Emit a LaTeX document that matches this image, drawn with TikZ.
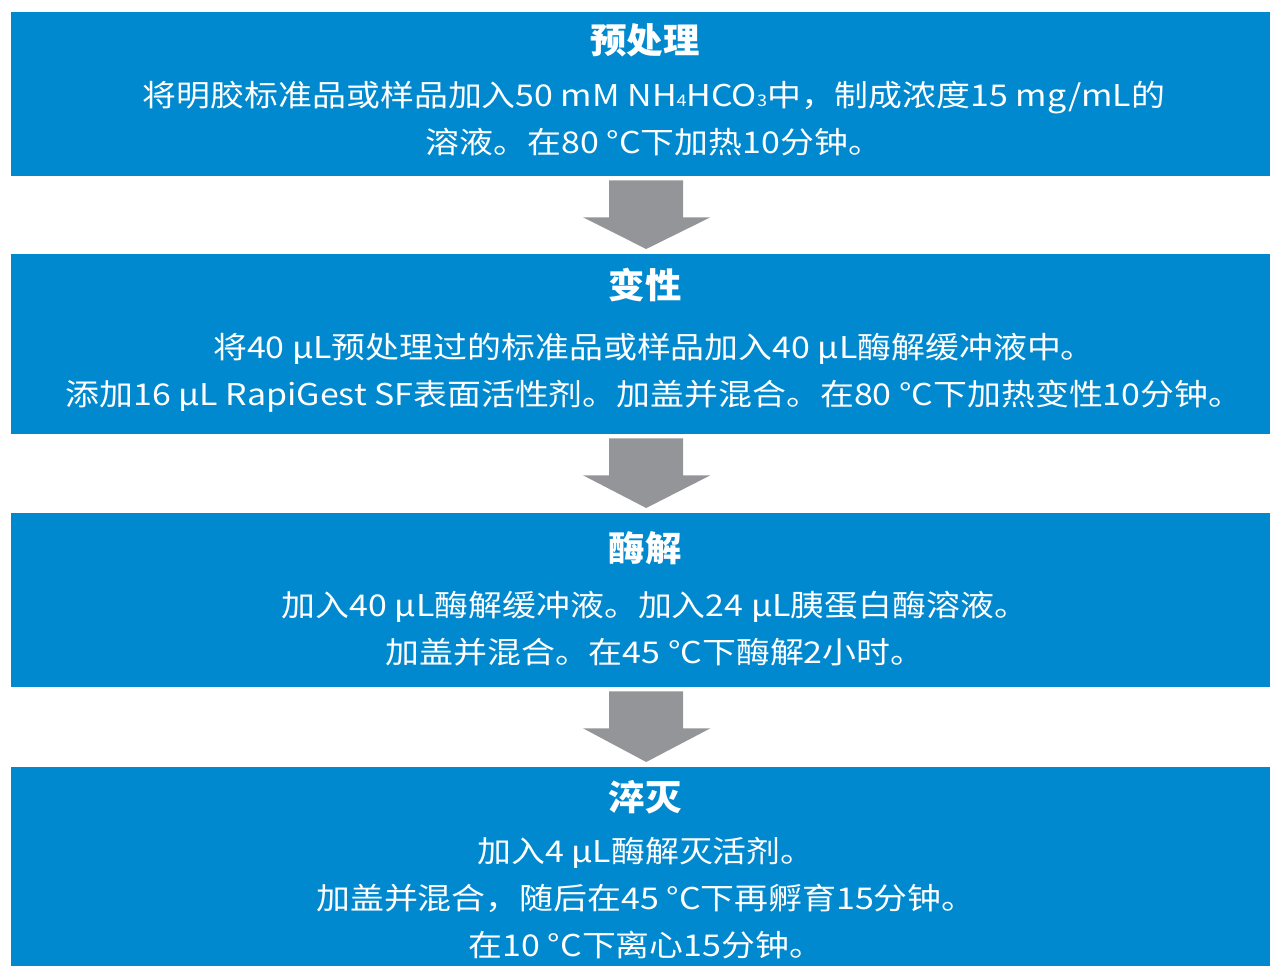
\documentclass[tikz,border=0pt]{standalone}
\usepackage{fontspec}
\setmainfont{Noto Sans CJK SC}
\newfontfamily\bodyfont[FakeStretch=1.13]{Noto Sans CJK SC}
\newfontfamily\titlefont[FakeStretch=1.04]{Noto Sans CJK SC}
\usetikzlibrary{calc}
\definecolor{stepblue}{RGB}{0,137,207}
\definecolor{arrowgray}{RGB}{147,149,152}
\newcommand{\subsc}[1]{{\fontsize{16}{16}\selectfont #1}}
\begin{document}
\begin{tikzpicture}[x=1pt,y=-1pt,
  stepbox/.style={fill=stepblue, draw=none, inner sep=0pt},
  steptitle/.style={text=white, font=\titlefont\fontsize{35}{35}\selectfont\bfseries, inner sep=0pt},
  stepbody/.style={text=white, align=center, font=\bodyfont\fontsize{30}{47}\selectfont, inner sep=0pt},
  flowarrow/.style={fill=arrowgray, draw=none}]
\useasboundingbox (0,0) rectangle (1270,966);
% boxes
\node[stepbox, minimum width=1259, minimum height=164, anchor=north west] (p1) at (11,12) {};
\node[stepbox, minimum width=1259, minimum height=180, anchor=north west] (p2) at (11,254) {};
\node[stepbox, minimum width=1259, minimum height=174, anchor=north west] (p3) at (11,513) {};
\node[stepbox, minimum width=1259, minimum height=199, anchor=north west] (p4) at (11,767) {};
% titles
\node[steptitle] (t1) at (645,40) {预处理};
\node[steptitle] (t2) at (645,285) {变性};
\node[steptitle] (t3) at (645,548) {酶解};
\node[steptitle] (t4) at (645,797) {淬灭};
% bodies
\node[stepbody] (d1) at (654,118.5) {将明胶标准品或样品加入50 mM NH\subsc{4}HCO\subsc{3}中，制成浓度15 mg/mL的\\溶液。在80 °C下加热10分钟。};
\node[stepbody] (d2) at (654,372.5) {将40 µL预处理过的标准品或样品加入40 µL酶解缓冲液中。\\添加16 µL RapiGest SF表面活性剂。加盖并混合。在80 °C下加热变性10分钟。};
\node[stepbody] (d3) at (655,628.5) {加入40 µL酶解缓冲液。加入24 µL胰蛋白酶溶液。\\加盖并混合。在45 °C下酶解2小时。};
\node[stepbody] (d4) at (646,898) {加入4 µL酶解灭活剂。\\加盖并混合，随后在45 °C下再孵育15分钟。\\在10 °C下离心15分钟。};
% arrows
\foreach \a/\b in {p1/p2, p2/p3, p3/p4}{
  \fill[flowarrow]
    ($(\a.south west)!0.5!(\a.south east)+(5.5,4)$) coordinate (m)
    (m) ++(-37,0) -- ++(74,0) -- ++(0,37) -- ++(27,0) -- ($(\b.north)+(5.5,-5)$) -- ($(m)+(-63,37)$) -- ++(26,0) -- cycle;
}
\end{tikzpicture}
\end{document}
